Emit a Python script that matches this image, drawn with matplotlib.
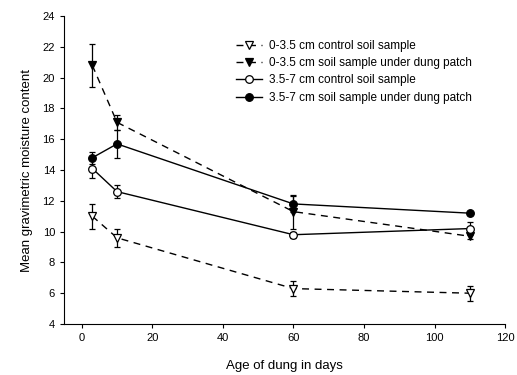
import matplotlib
matplotlib.use("Agg")
import matplotlib.pyplot as plt

plt.rcParams['font.family'] = ['Liberation Sans', 'DejaVu Sans']

days = [3, 10, 60, 110]

# 0-3.5 cm
ctrl_top = [11.0, 9.6, 6.3, 6.0]
ctrl_top_err = [0.8, 0.6, 0.5, 0.5]
dung_top = [20.8, 17.1, 11.3, 9.7]
dung_top_err = [1.4, 0.5, 1.1, 0.2]

# 3.5-7 cm
ctrl_bot = [14.1, 12.6, 9.8, 10.2]
ctrl_bot_err = [0.6, 0.4, 0.2, 0.4]
dung_bot = [14.8, 15.7, 11.8, 11.2]
dung_bot_err = [0.4, 0.9, 0.5, 0.1]

labels = ['0-3.5 cm control soil sample',
          '0-3.5 cm soil sample under dung patch',
          '3.5-7 cm control soil sample',
          '3.5-7 cm soil sample under dung patch']

fig = plt.figure(figsize=(5.17, 3.75), dpi=100)
ax = fig.add_axes([0.124, 0.136, 0.853, 0.821])

kw = dict(color='black', ecolor='black', elinewidth=0.9, capsize=2.5, capthick=0.9,
          markersize=5.5, markeredgewidth=0.9, lw=1.0)
c1 = ax.errorbar(days, ctrl_top, yerr=ctrl_top_err, ls=(0, (5, 4)), marker='v',
                 mfc='white', **kw)
c2 = ax.errorbar(days, dung_top, yerr=dung_top_err, ls=(0, (5, 4)), marker='v',
                 mfc='black', **kw)
c3 = ax.errorbar(days, ctrl_bot, yerr=ctrl_bot_err, ls='-', marker='o',
                 mfc='white', **kw)
c4 = ax.errorbar(days, dung_bot, yerr=dung_bot_err, ls='-', marker='o',
                 mfc='black', **kw)

ax.set_xlim(-5, 120)
ax.set_ylim(4, 24)
ax.set_xticks(range(0, 121, 20))
ax.set_yticks(range(4, 25, 2))
ax.spines['top'].set_visible(False)
ax.spines['right'].set_visible(False)
ax.tick_params(direction='out', length=3, width=0.8, labelsize=8)

ax.set_xlabel('Age of dung in days', fontsize=9.5, labelpad=12)
ax.set_ylabel('Mean gravimetric moisture content', fontsize=9.5, labelpad=7)

# legend shows only line + marker, no error bars
handles = [c[0] for c in (c1, c2, c3, c4)]
leg = ax.legend(handles, labels, loc='upper left', bbox_to_anchor=(0.37, 0.95),
                frameon=False, fontsize=8.5, handlelength=2.2, handletextpad=0.6,
                labelspacing=0.45, borderaxespad=0.3)

fig.savefig('out.png', dpi=100)
